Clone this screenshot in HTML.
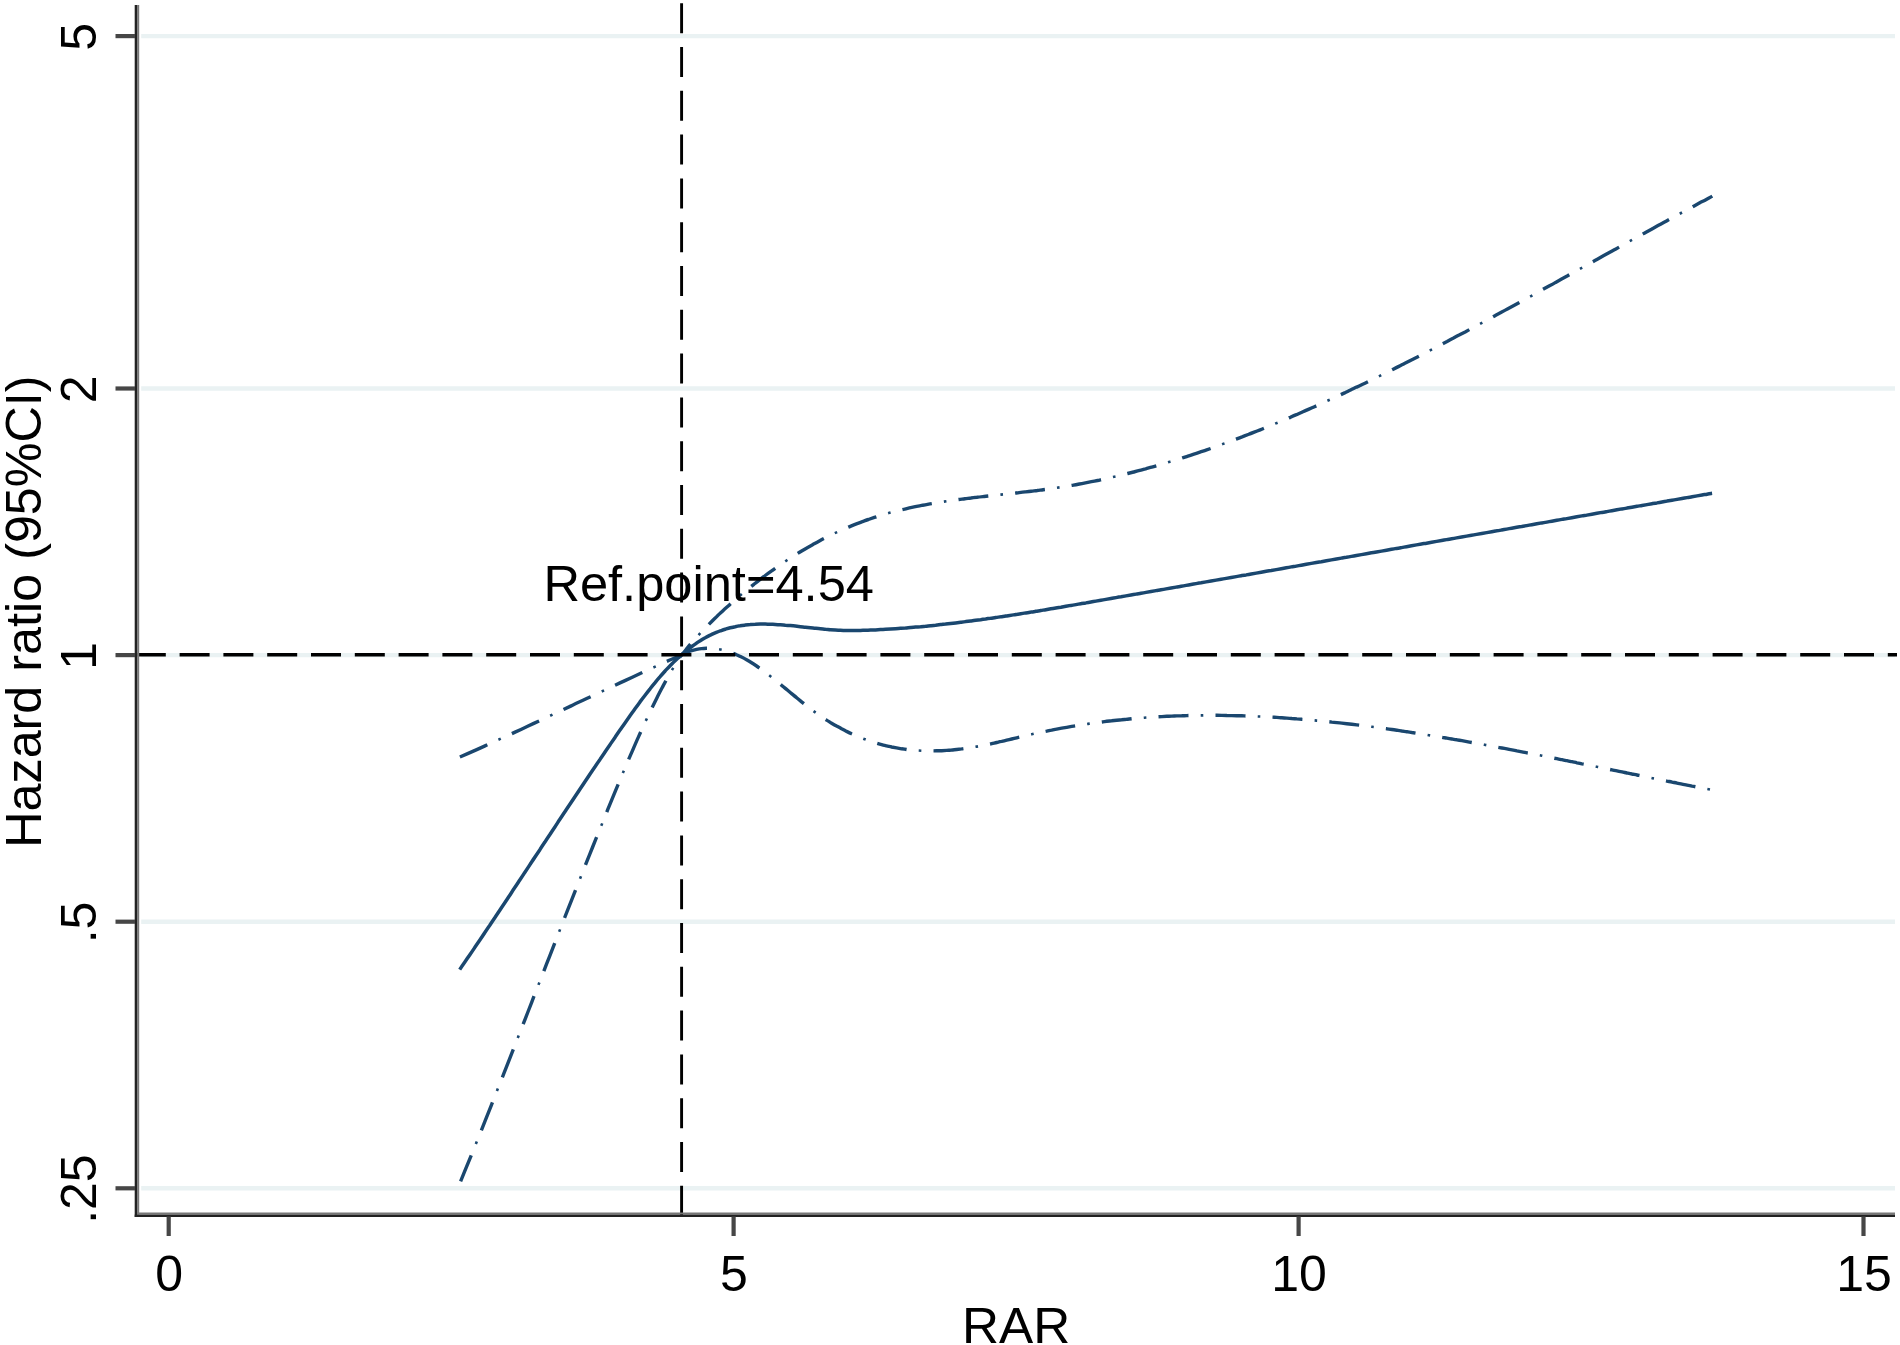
<!DOCTYPE html>
<html lang="en"><head><meta charset="utf-8"><title>Hazard ratio (95%CI) vs RAR</title>
<style>html,body{margin:0;padding:0;background:#fff;}svg{display:block;}svg text{font-family:"Liberation Sans",sans-serif;}</style></head><body>
<svg width="1900" height="1345" viewBox="0 0 1900 1345">
<rect x="0" y="0" width="1900" height="1345" fill="#ffffff"/>
<g stroke="#eaf2f3" stroke-width="4.4">
<line x1="141.2" y1="36.1" x2="1895" y2="36.1"/>
<line x1="141.2" y1="388.5" x2="1895" y2="388.5"/>
<line x1="141.2" y1="655.1" x2="1895" y2="655.1"/>
<line x1="141.2" y1="921.7" x2="1895" y2="921.7"/>
<line x1="141.2" y1="1188.3" x2="1895" y2="1188.3"/>
</g>
<g fill="none" stroke="#1a476f" stroke-linecap="butt" stroke-linejoin="round">
<path d="M459.7 969.6 C460.5 968.4 463.0 964.7 464.7 962.3 C466.4 959.8 468.0 957.4 469.7 954.9 C471.4 952.5 473.1 950.0 474.7 947.6 C476.4 945.1 478.1 942.6 479.7 940.2 C481.4 937.7 483.1 935.2 484.7 932.7 C486.4 930.2 488.1 927.7 489.8 925.3 C491.4 922.8 493.1 920.3 494.8 917.8 C496.4 915.3 498.1 912.8 499.8 910.2 C501.4 907.7 503.1 905.2 504.8 902.7 C506.5 900.2 508.1 897.7 509.8 895.2 C511.5 892.6 513.1 890.1 514.8 887.6 C516.5 885.1 518.1 882.6 519.8 880.0 C521.5 877.5 523.2 875.0 524.8 872.4 C526.5 869.9 528.2 867.4 529.8 864.9 C531.5 862.3 533.2 859.8 534.8 857.3 C536.5 854.7 538.2 852.2 539.9 849.7 C541.5 847.1 543.2 844.6 544.9 842.1 C546.5 839.5 548.2 837.0 549.9 834.5 C551.5 831.9 553.2 829.4 554.9 826.9 C556.6 824.4 558.2 821.8 559.9 819.3 C561.6 816.8 563.2 814.3 564.9 811.8 C566.6 809.2 568.2 806.7 569.9 804.2 C571.6 801.7 573.3 799.2 574.9 796.7 C576.6 794.2 578.3 791.7 579.9 789.2 C581.6 786.7 583.3 784.2 584.9 781.7 C586.6 779.2 588.3 776.7 589.9 774.2 C591.6 771.7 593.3 769.3 595.0 766.8 C596.6 764.3 598.3 761.8 600.0 759.4 C601.6 756.9 603.3 754.5 605.0 752.0 C606.6 749.6 608.3 747.1 610.0 744.7 C611.7 742.2 613.3 739.8 615.0 737.4 C616.7 734.9 618.3 732.5 620.0 730.1 C621.7 727.7 623.3 725.3 625.0 722.9 C626.7 720.5 628.4 718.1 630.0 715.8 C631.7 713.4 633.4 711.1 635.0 708.8 C636.7 706.5 638.4 704.2 640.0 701.9 C641.7 699.7 643.4 697.4 645.1 695.2 C646.7 693.0 648.4 690.9 650.1 688.8 C651.7 686.7 653.4 684.6 655.1 682.6 C656.7 680.6 658.4 678.6 660.1 676.7 C661.8 674.7 663.4 672.9 665.1 671.0 C666.8 669.2 668.4 667.4 670.1 665.7 C671.8 664.0 673.4 662.3 675.1 660.7 C676.8 659.1 678.5 657.6 680.1 656.1 C681.8 654.6 683.5 653.1 685.1 651.7 C686.8 650.3 688.5 649.0 690.1 647.7 C691.8 646.5 693.5 645.2 695.2 644.1 C696.8 642.9 698.5 641.8 700.2 640.8 C701.8 639.7 703.5 638.7 705.2 637.8 C706.8 636.9 708.5 636.0 710.2 635.2 C711.8 634.3 713.5 633.6 715.2 632.9 C716.9 632.2 718.5 631.5 720.2 630.9 C721.9 630.3 723.5 629.7 725.2 629.2 C726.9 628.7 728.5 628.2 730.2 627.8 C731.9 627.4 733.6 627.0 735.2 626.7 C736.9 626.3 738.6 626.0 740.2 625.8 C741.9 625.5 743.6 625.3 745.2 625.1 C746.9 624.9 748.6 624.7 750.3 624.6 C751.9 624.4 753.6 624.3 755.3 624.3 C756.9 624.2 758.6 624.1 760.3 624.1 C761.9 624.1 763.6 624.1 765.3 624.1 C767.0 624.1 768.6 624.2 770.3 624.2 C772.0 624.3 773.6 624.4 775.3 624.5 C777.0 624.6 778.6 624.7 780.3 624.8 C782.0 624.9 783.7 625.0 785.3 625.2 C787.0 625.3 788.7 625.5 790.3 625.6 C792.0 625.8 793.7 626.0 795.3 626.1 C797.0 626.3 798.7 626.5 800.4 626.7 C802.0 626.9 803.7 627.0 805.4 627.2 C807.0 627.4 808.7 627.6 810.4 627.8 C812.0 628.0 813.7 628.1 815.4 628.3 C817.1 628.5 818.7 628.7 820.4 628.8 C822.1 629.0 823.7 629.1 825.4 629.3 C827.1 629.4 828.7 629.6 830.4 629.7 C832.1 629.8 833.8 629.9 835.4 630.0 C837.1 630.1 838.8 630.2 840.4 630.2 C842.1 630.3 843.8 630.4 845.4 630.4 C847.1 630.4 848.8 630.5 850.4 630.5 C852.1 630.5 853.8 630.5 855.5 630.5 C857.1 630.4 858.8 630.4 860.5 630.4 C862.1 630.4 863.8 630.3 865.5 630.3 C867.1 630.2 868.8 630.2 870.5 630.1 C872.2 630.0 873.8 629.9 875.5 629.9 C877.2 629.8 878.8 629.7 880.5 629.6 C882.2 629.5 883.8 629.4 885.5 629.3 C887.2 629.2 888.9 629.1 890.5 629.0 C892.2 628.9 893.9 628.8 895.5 628.7 C897.2 628.6 898.9 628.5 900.5 628.3 C902.2 628.2 903.9 628.1 905.6 628.0 C907.2 627.8 908.9 627.7 910.6 627.5 C912.2 627.4 913.9 627.3 915.6 627.1 C917.2 627.0 918.9 626.8 920.6 626.7 C922.3 626.5 923.9 626.3 925.6 626.2 C927.3 626.0 928.9 625.9 930.6 625.7 C932.3 625.5 933.9 625.3 935.6 625.2 C937.3 625.0 939.0 624.8 940.6 624.6 C942.3 624.4 944.0 624.3 945.6 624.1 C947.3 623.9 949.0 623.7 950.6 623.5 C952.3 623.3 954.0 623.1 955.7 622.9 C957.3 622.7 959.0 622.5 960.7 622.3 C962.3 622.1 964.0 621.9 965.7 621.6 C967.3 621.4 969.0 621.2 970.7 621.0 C972.3 620.8 974.0 620.6 975.7 620.3 C977.4 620.1 979.0 619.9 980.7 619.7 C982.4 619.4 984.0 619.2 985.7 619.0 C987.4 618.7 989.0 618.5 990.7 618.3 C992.4 618.0 994.1 617.8 995.7 617.5 C997.4 617.3 999.1 617.0 1000.7 616.8 C1002.4 616.5 1004.1 616.3 1005.7 616.0 C1007.4 615.8 1009.1 615.5 1010.8 615.3 C1012.4 615.0 1014.1 614.8 1015.8 614.5 C1017.4 614.3 1019.1 614.0 1020.8 613.7 C1022.4 613.5 1024.1 613.2 1025.8 612.9 C1027.5 612.7 1029.1 612.4 1030.8 612.1 C1032.5 611.9 1034.1 611.6 1035.8 611.3 C1037.5 611.0 1039.1 610.8 1040.8 610.5 C1042.5 610.2 1044.2 610.0 1045.8 609.7 C1047.5 609.4 1049.2 609.1 1050.8 608.8 C1052.5 608.6 1054.2 608.3 1055.8 608.0 C1057.5 607.7 1059.2 607.4 1060.9 607.2 C1062.5 606.9 1064.2 606.6 1065.9 606.3 C1067.5 606.0 1069.2 605.7 1070.9 605.4 C1072.5 605.2 1074.2 604.9 1075.9 604.6 C1077.6 604.3 1079.2 604.0 1080.9 603.7 C1082.6 603.4 1084.2 603.1 1085.9 602.9 C1087.6 602.6 1089.2 602.3 1090.9 602.0 C1092.6 601.7 1094.2 601.4 1095.9 601.1 C1097.6 600.8 1099.3 600.5 1100.9 600.2 C1102.6 600.0 1104.3 599.7 1105.9 599.4 C1107.6 599.1 1109.3 598.8 1110.9 598.5 C1112.6 598.2 1114.3 597.9 1116.0 597.6 C1117.6 597.3 1119.3 597.0 1121.0 596.8 C1122.6 596.5 1124.3 596.2 1126.0 595.9 C1127.6 595.6 1129.3 595.3 1131.0 595.0 C1132.7 594.7 1134.3 594.4 1136.0 594.1 C1137.7 593.8 1139.3 593.6 1141.0 593.3 C1142.7 593.0 1144.3 592.7 1146.0 592.4 C1147.7 592.1 1149.4 591.8 1151.0 591.5 C1152.7 591.2 1154.4 590.9 1156.0 590.6 C1157.7 590.3 1159.4 590.1 1161.0 589.8 C1162.7 589.5 1164.4 589.2 1166.1 588.9 C1167.7 588.6 1169.4 588.3 1171.1 588.0 C1172.7 587.7 1174.4 587.4 1176.1 587.1 C1177.7 586.8 1179.4 586.6 1181.1 586.3 C1182.8 586.0 1184.4 585.7 1186.1 585.4 C1187.8 585.1 1189.4 584.8 1191.1 584.5 C1192.8 584.2 1194.4 583.9 1196.1 583.6 C1197.8 583.3 1199.5 583.0 1201.1 582.8 C1202.8 582.5 1204.5 582.2 1206.1 581.9 C1207.8 581.6 1209.5 581.3 1211.1 581.0 C1212.8 580.7 1214.5 580.4 1216.1 580.1 C1217.8 579.8 1219.5 579.5 1221.2 579.2 C1222.8 579.0 1224.5 578.7 1226.2 578.4 C1227.8 578.1 1229.5 577.8 1231.2 577.5 C1232.8 577.2 1234.5 576.9 1236.2 576.6 C1237.9 576.3 1239.5 576.0 1241.2 575.7 C1242.9 575.4 1244.5 575.1 1246.2 574.9 C1247.9 574.6 1249.5 574.3 1251.2 574.0 C1252.9 573.7 1254.6 573.4 1256.2 573.1 C1257.9 572.8 1259.6 572.5 1261.2 572.2 C1262.9 571.9 1264.6 571.6 1266.2 571.3 C1267.9 571.0 1269.6 570.7 1271.3 570.5 C1272.9 570.2 1274.6 569.9 1276.3 569.6 C1277.9 569.3 1279.6 569.0 1281.3 568.7 C1282.9 568.4 1284.6 568.1 1286.3 567.8 C1288.0 567.5 1289.6 567.2 1291.3 566.9 C1293.0 566.6 1294.6 566.4 1296.3 566.1 C1298.0 565.8 1299.6 565.5 1301.3 565.2 C1303.0 564.9 1304.7 564.6 1306.3 564.3 C1308.0 564.0 1309.7 563.7 1311.3 563.4 C1313.0 563.1 1314.7 562.8 1316.3 562.5 C1318.0 562.2 1319.7 561.9 1321.4 561.7 C1323.0 561.4 1324.7 561.1 1326.4 560.8 C1328.0 560.5 1329.7 560.2 1331.4 559.9 C1333.0 559.6 1334.7 559.3 1336.4 559.0 C1338.0 558.7 1339.7 558.4 1341.4 558.1 C1343.1 557.8 1344.7 557.5 1346.4 557.3 C1348.1 557.0 1349.7 556.7 1351.4 556.4 C1353.1 556.1 1354.7 555.8 1356.4 555.5 C1358.1 555.2 1359.8 554.9 1361.4 554.6 C1363.1 554.3 1364.8 554.0 1366.4 553.7 C1368.1 553.4 1369.8 553.1 1371.4 552.8 C1373.1 552.6 1374.8 552.3 1376.5 552.0 C1378.1 551.7 1379.8 551.4 1381.5 551.1 C1383.1 550.8 1384.8 550.5 1386.5 550.2 C1388.1 549.9 1389.8 549.6 1391.5 549.3 C1393.2 549.0 1394.8 548.7 1396.5 548.4 C1398.2 548.2 1399.8 547.9 1401.5 547.6 C1403.2 547.3 1404.8 547.0 1406.5 546.7 C1408.2 546.4 1409.9 546.1 1411.5 545.8 C1413.2 545.5 1414.9 545.2 1416.5 544.9 C1418.2 544.6 1419.9 544.3 1421.5 544.0 C1423.2 543.7 1424.9 543.5 1426.6 543.2 C1428.2 542.9 1429.9 542.6 1431.6 542.3 C1433.2 542.0 1434.9 541.7 1436.6 541.4 C1438.2 541.1 1439.9 540.8 1441.6 540.5 C1443.3 540.2 1444.9 539.9 1446.6 539.6 C1448.3 539.3 1449.9 539.1 1451.6 538.8 C1453.3 538.5 1454.9 538.2 1456.6 537.9 C1458.3 537.6 1460.0 537.3 1461.6 537.0 C1463.3 536.7 1465.0 536.4 1466.6 536.1 C1468.3 535.8 1470.0 535.5 1471.6 535.2 C1473.3 535.0 1475.0 534.7 1476.6 534.4 C1478.3 534.1 1480.0 533.8 1481.7 533.5 C1483.3 533.2 1485.0 532.9 1486.7 532.6 C1488.3 532.3 1490.0 532.0 1491.7 531.7 C1493.3 531.4 1495.0 531.1 1496.7 530.8 C1498.4 530.6 1500.0 530.3 1501.7 530.0 C1503.4 529.7 1505.0 529.4 1506.7 529.1 C1508.4 528.8 1510.0 528.5 1511.7 528.2 C1513.4 527.9 1515.1 527.6 1516.7 527.3 C1518.4 527.0 1520.1 526.7 1521.7 526.5 C1523.4 526.2 1525.1 525.9 1526.7 525.6 C1528.4 525.3 1530.1 525.0 1531.8 524.7 C1533.4 524.4 1535.1 524.1 1536.8 523.8 C1538.4 523.5 1540.1 523.2 1541.8 522.9 C1543.4 522.7 1545.1 522.4 1546.8 522.1 C1548.5 521.8 1550.1 521.5 1551.8 521.2 C1553.5 520.9 1555.1 520.6 1556.8 520.3 C1558.5 520.0 1560.1 519.7 1561.8 519.4 C1563.5 519.1 1565.2 518.9 1566.8 518.6 C1568.5 518.3 1570.2 518.0 1571.8 517.7 C1573.5 517.4 1575.2 517.1 1576.8 516.8 C1578.5 516.5 1580.2 516.2 1581.9 515.9 C1583.5 515.6 1585.2 515.4 1586.9 515.1 C1588.5 514.8 1590.2 514.5 1591.9 514.2 C1593.5 513.9 1595.2 513.6 1596.9 513.3 C1598.5 513.0 1600.2 512.7 1601.9 512.4 C1603.6 512.2 1605.2 511.9 1606.9 511.6 C1608.6 511.3 1610.2 511.0 1611.9 510.7 C1613.6 510.4 1615.2 510.1 1616.9 509.8 C1618.6 509.5 1620.3 509.2 1621.9 508.9 C1623.6 508.7 1625.3 508.4 1626.9 508.1 C1628.6 507.8 1630.3 507.5 1631.9 507.2 C1633.6 506.9 1635.3 506.6 1637.0 506.3 C1638.6 506.0 1640.3 505.8 1642.0 505.5 C1643.6 505.2 1645.3 504.9 1647.0 504.6 C1648.6 504.3 1650.3 504.0 1652.0 503.7 C1653.7 503.4 1655.3 503.1 1657.0 502.9 C1658.7 502.6 1660.3 502.3 1662.0 502.0 C1663.7 501.7 1665.3 501.4 1667.0 501.1 C1668.7 500.8 1670.4 500.5 1672.0 500.2 C1673.7 500.0 1675.4 499.7 1677.0 499.4 C1678.7 499.1 1680.4 498.8 1682.0 498.5 C1683.7 498.2 1685.4 497.9 1687.1 497.6 C1688.7 497.3 1690.4 497.1 1692.1 496.8 C1693.7 496.5 1695.4 496.2 1697.1 495.9 C1698.7 495.6 1700.4 495.3 1702.1 495.0 C1703.8 494.7 1705.4 494.5 1707.1 494.2 C1708.8 493.9 1711.3 493.4 1712.1 493.3" stroke-width="3.5"/>
<path d="M459.9 757.0 C462.0 756.1 468.1 753.4 472.2 751.6 C476.3 749.7 480.4 747.9 484.5 746.1 C488.6 744.2 492.7 742.4 496.8 740.5 C500.9 738.6 505.1 736.7 509.2 734.9 C513.3 733.0 517.4 731.1 521.5 729.2 C525.6 727.3 529.7 725.3 533.8 723.4 C537.9 721.5 542.0 719.6 546.1 717.7 C550.2 715.7 554.3 713.8 558.4 711.9 C562.5 709.9 566.6 708.0 570.7 706.1 C574.8 704.1 578.9 702.2 583.0 700.3 C587.1 698.3 591.2 696.4 595.4 694.5 C599.5 692.5 603.6 690.6 607.7 688.7 C611.8 686.7 615.9 684.8 620.0 682.9 C624.1 681.0 628.2 679.1 632.3 677.2 C636.4 675.3 640.5 673.4 644.6 671.5 C648.7 669.6 652.8 667.7 656.9 665.9 C661.0 664.0 665.1 662.1 669.2 660.3 C673.3 658.4 678.5 656.9 681.5 654.8 C684.6 652.7 685.6 649.9 687.6 647.5 C689.6 645.1 691.6 642.8 693.6 640.5 C695.6 638.3 697.6 636.1 699.6 633.9 C701.6 631.7 703.7 629.6 705.7 627.6 C707.7 625.5 709.7 623.5 711.7 621.5 C713.7 619.5 715.7 617.6 717.7 615.6 C719.7 613.7 721.7 611.9 723.7 610.0 C725.8 608.2 727.8 606.3 729.8 604.6 C731.8 602.8 733.8 601.0 735.8 599.3 C737.8 597.5 739.8 595.8 741.8 594.1 C743.8 592.4 745.8 590.8 747.9 589.1 C749.9 587.5 751.9 585.9 753.9 584.3 C755.9 582.7 757.9 581.1 759.9 579.6 C761.9 578.0 763.9 576.5 765.9 575.0 C767.9 573.5 770.0 572.0 772.0 570.6 C774.0 569.1 776.0 567.7 778.0 566.3 C780.0 564.9 782.0 563.6 784.0 562.2 C786.0 560.9 788.0 559.5 790.0 558.2 C792.1 556.9 794.1 555.7 796.1 554.4 C798.1 553.1 800.1 551.9 802.1 550.7 C804.1 549.5 806.1 548.3 808.1 547.2 C810.1 546.0 812.2 544.9 814.2 543.8 C816.2 542.7 818.2 541.6 820.2 540.5 C822.2 539.4 824.2 538.4 826.2 537.4 C828.2 536.4 830.2 535.4 832.2 534.4 C834.3 533.4 836.3 532.5 838.3 531.6 C840.3 530.6 842.3 529.7 844.3 528.9 C846.3 528.0 848.3 527.1 850.3 526.3 C852.3 525.5 854.3 524.7 856.4 523.9 C858.4 523.1 860.4 522.3 862.4 521.6 C864.4 520.9 866.4 520.1 868.4 519.5 C870.4 518.8 872.4 518.1 874.4 517.4 C876.4 516.8 878.5 516.1 880.5 515.5 C882.5 514.9 884.5 514.3 886.5 513.8 C888.5 513.2 890.5 512.6 892.5 512.1 C894.5 511.6 896.5 511.0 898.5 510.5 C900.6 510.0 902.6 509.5 904.6 509.1 C906.6 508.6 908.6 508.2 910.6 507.7 C912.6 507.3 914.6 506.9 916.6 506.4 C918.6 506.0 920.7 505.6 922.7 505.2 C924.7 504.9 926.7 504.5 928.7 504.1 C930.7 503.8 932.7 503.4 934.7 503.1 C936.7 502.7 938.7 502.4 940.7 502.1 C942.8 501.8 944.8 501.5 946.8 501.2 C948.8 500.9 950.8 500.6 952.8 500.3 C954.8 500.0 956.8 499.8 958.8 499.5 C960.8 499.2 962.8 499.0 964.9 498.7 C966.9 498.5 968.9 498.2 970.9 498.0 C972.9 497.7 974.9 497.5 976.9 497.3 C978.9 497.0 980.9 496.8 982.9 496.6 C984.9 496.4 987.0 496.1 989.0 495.9 C991.0 495.7 993.0 495.5 995.0 495.2 C997.0 495.0 999.0 494.8 1001.0 494.6 C1003.0 494.4 1005.0 494.2 1007.0 493.9 C1009.1 493.7 1011.1 493.5 1013.1 493.3 C1015.1 493.1 1017.1 492.8 1019.1 492.6 C1021.1 492.4 1023.1 492.2 1025.1 491.9 C1027.1 491.7 1029.2 491.5 1031.2 491.2 C1033.2 491.0 1035.2 490.7 1037.2 490.5 C1039.2 490.2 1041.2 490.0 1043.2 489.7 C1045.2 489.4 1047.2 489.2 1049.2 488.9 C1051.3 488.6 1053.3 488.3 1055.3 488.0 C1057.3 487.7 1059.3 487.4 1061.3 487.1 C1063.3 486.8 1065.3 486.5 1067.3 486.1 C1069.3 485.8 1071.3 485.5 1073.4 485.1 C1075.4 484.8 1077.4 484.4 1079.4 484.0 C1081.4 483.7 1083.4 483.3 1085.4 482.9 C1087.4 482.5 1089.4 482.1 1091.4 481.7 C1093.4 481.3 1095.5 480.9 1097.5 480.5 C1099.5 480.1 1101.5 479.6 1103.5 479.2 C1105.5 478.8 1107.5 478.3 1109.5 477.9 C1111.5 477.4 1113.5 476.9 1115.5 476.5 C1117.6 476.0 1119.6 475.5 1121.6 475.0 C1123.6 474.5 1125.6 474.0 1127.6 473.5 C1129.6 473.0 1131.6 472.5 1133.6 472.0 C1135.6 471.5 1137.7 471.0 1139.7 470.4 C1141.7 469.9 1143.7 469.3 1145.7 468.8 C1147.7 468.2 1149.7 467.7 1151.7 467.1 C1153.7 466.6 1155.7 466.0 1157.7 465.4 C1159.8 464.8 1161.8 464.2 1163.8 463.6 C1165.8 463.0 1167.8 462.4 1169.8 461.8 C1171.8 461.2 1173.8 460.6 1175.8 460.0 C1177.8 459.3 1179.8 458.7 1181.9 458.1 C1183.9 457.4 1185.9 456.8 1187.9 456.1 C1189.9 455.5 1191.9 454.8 1193.9 454.1 C1195.9 453.5 1197.9 452.8 1199.9 452.1 C1201.9 451.4 1204.0 450.8 1206.0 450.1 C1208.0 449.4 1210.0 448.7 1212.0 448.0 C1214.0 447.3 1216.0 446.5 1218.0 445.8 C1220.0 445.1 1222.0 444.4 1224.0 443.6 C1226.1 442.9 1228.1 442.2 1230.1 441.4 C1232.1 440.7 1234.1 439.9 1236.1 439.2 C1238.1 438.4 1240.1 437.6 1242.1 436.9 C1244.1 436.1 1246.2 435.3 1248.2 434.5 C1250.2 433.8 1252.2 433.0 1254.2 432.2 C1256.2 431.4 1258.2 430.6 1260.2 429.8 C1262.2 429.0 1264.2 428.2 1266.2 427.3 C1268.3 426.5 1270.3 425.7 1272.3 424.9 C1274.3 424.0 1276.3 423.2 1278.3 422.4 C1280.3 421.5 1282.3 420.7 1284.3 419.8 C1286.3 419.0 1288.3 418.1 1290.4 417.3 C1292.4 416.4 1294.4 415.5 1296.4 414.7 C1298.4 413.8 1300.4 412.9 1302.4 412.0 C1304.4 411.2 1306.4 410.3 1308.4 409.4 C1310.4 408.5 1312.5 407.6 1314.5 406.7 C1316.5 405.8 1318.5 404.9 1320.5 404.0 C1322.5 403.1 1324.5 402.2 1326.5 401.2 C1328.5 400.3 1330.5 399.4 1332.5 398.5 C1334.6 397.5 1336.6 396.6 1338.6 395.7 C1340.6 394.7 1342.6 393.8 1344.6 392.9 C1346.6 391.9 1348.6 391.0 1350.6 390.0 C1352.6 389.0 1354.7 388.1 1356.7 387.1 C1358.7 386.2 1360.7 385.2 1362.7 384.2 C1364.7 383.3 1366.7 382.3 1368.7 381.3 C1370.7 380.3 1372.7 379.3 1374.7 378.4 C1376.8 377.4 1378.8 376.4 1380.8 375.4 C1382.8 374.4 1384.8 373.4 1386.8 372.4 C1388.8 371.4 1390.8 370.4 1392.8 369.4 C1394.8 368.4 1396.8 367.4 1398.9 366.4 C1400.9 365.4 1402.9 364.3 1404.9 363.3 C1406.9 362.3 1408.9 361.3 1410.9 360.2 C1412.9 359.2 1414.9 358.2 1416.9 357.2 C1418.9 356.1 1421.0 355.1 1423.0 354.1 C1425.0 353.0 1427.0 352.0 1429.0 350.9 C1431.0 349.9 1433.0 348.8 1435.0 347.8 C1437.0 346.7 1439.0 345.7 1441.0 344.6 C1443.1 343.6 1445.1 342.5 1447.1 341.5 C1449.1 340.4 1451.1 339.3 1453.1 338.3 C1455.1 337.2 1457.1 336.1 1459.1 335.1 C1461.1 334.0 1463.2 332.9 1465.2 331.9 C1467.2 330.8 1469.2 329.7 1471.2 328.6 C1473.2 327.6 1475.2 326.5 1477.2 325.4 C1479.2 324.3 1481.2 323.2 1483.2 322.1 C1485.3 321.1 1487.3 320.0 1489.3 318.9 C1491.3 317.8 1493.3 316.7 1495.3 315.6 C1497.3 314.5 1499.3 313.4 1501.3 312.3 C1503.3 311.2 1505.3 310.1 1507.4 309.0 C1509.4 307.9 1511.4 306.8 1513.4 305.7 C1515.4 304.6 1517.4 303.5 1519.4 302.4 C1521.4 301.3 1523.4 300.2 1525.4 299.1 C1527.4 298.0 1529.5 296.9 1531.5 295.8 C1533.5 294.7 1535.5 293.6 1537.5 292.5 C1539.5 291.4 1541.5 290.2 1543.5 289.1 C1545.5 288.0 1547.5 286.9 1549.5 285.8 C1551.6 284.7 1553.6 283.6 1555.6 282.4 C1557.6 281.3 1559.6 280.2 1561.6 279.1 C1563.6 278.0 1565.6 276.9 1567.6 275.8 C1569.6 274.6 1571.7 273.5 1573.7 272.4 C1575.7 271.3 1577.7 270.2 1579.7 269.0 C1581.7 267.9 1583.7 266.8 1585.7 265.7 C1587.7 264.6 1589.7 263.5 1591.7 262.3 C1593.8 261.2 1595.8 260.1 1597.8 259.0 C1599.8 257.9 1601.8 256.7 1603.8 255.6 C1605.8 254.5 1607.8 253.4 1609.8 252.3 C1611.8 251.2 1613.8 250.0 1615.9 248.9 C1617.9 247.8 1619.9 246.7 1621.9 245.6 C1623.9 244.5 1625.9 243.4 1627.9 242.2 C1629.9 241.1 1631.9 240.0 1633.9 238.9 C1635.9 237.8 1638.0 236.7 1640.0 235.6 C1642.0 234.5 1644.0 233.3 1646.0 232.2 C1648.0 231.1 1650.0 230.0 1652.0 228.9 C1654.0 227.8 1656.0 226.7 1658.0 225.6 C1660.1 224.5 1662.1 223.4 1664.1 222.3 C1666.1 221.2 1668.1 220.1 1670.1 219.0 C1672.1 217.9 1674.1 216.8 1676.1 215.7 C1678.1 214.6 1680.2 213.5 1682.2 212.4 C1684.2 211.3 1686.2 210.2 1688.2 209.1 C1690.2 208.0 1692.2 207.0 1694.2 205.9 C1696.2 204.8 1698.2 203.7 1700.2 202.6 C1702.3 201.5 1704.3 200.5 1706.3 199.4 C1708.3 198.3 1711.3 196.7 1712.3 196.1" stroke-width="3.4" stroke-dasharray="30 27"/>
<path d="M459.9 757.0 C462.0 756.1 468.1 753.4 472.2 751.6 C476.3 749.7 480.4 747.9 484.5 746.1 C488.6 744.2 492.7 742.4 496.8 740.5 C500.9 738.6 505.1 736.7 509.2 734.9 C513.3 733.0 517.4 731.1 521.5 729.2 C525.6 727.3 529.7 725.3 533.8 723.4 C537.9 721.5 542.0 719.6 546.1 717.7 C550.2 715.7 554.3 713.8 558.4 711.9 C562.5 709.9 566.6 708.0 570.7 706.1 C574.8 704.1 578.9 702.2 583.0 700.3 C587.1 698.3 591.2 696.4 595.4 694.5 C599.5 692.5 603.6 690.6 607.7 688.7 C611.8 686.7 615.9 684.8 620.0 682.9 C624.1 681.0 628.2 679.1 632.3 677.2 C636.4 675.3 640.5 673.4 644.6 671.5 C648.7 669.6 652.8 667.7 656.9 665.9 C661.0 664.0 665.1 662.1 669.2 660.3 C673.3 658.4 678.5 656.9 681.5 654.8 C684.6 652.7 685.6 649.9 687.6 647.5 C689.6 645.1 691.6 642.8 693.6 640.5 C695.6 638.3 697.6 636.1 699.6 633.9 C701.6 631.7 703.7 629.6 705.7 627.6 C707.7 625.5 709.7 623.5 711.7 621.5 C713.7 619.5 715.7 617.6 717.7 615.6 C719.7 613.7 721.7 611.9 723.7 610.0 C725.8 608.2 727.8 606.3 729.8 604.6 C731.8 602.8 733.8 601.0 735.8 599.3 C737.8 597.5 739.8 595.8 741.8 594.1 C743.8 592.4 745.8 590.8 747.9 589.1 C749.9 587.5 751.9 585.9 753.9 584.3 C755.9 582.7 757.9 581.1 759.9 579.6 C761.9 578.0 763.9 576.5 765.9 575.0 C767.9 573.5 770.0 572.0 772.0 570.6 C774.0 569.1 776.0 567.7 778.0 566.3 C780.0 564.9 782.0 563.6 784.0 562.2 C786.0 560.9 788.0 559.5 790.0 558.2 C792.1 556.9 794.1 555.7 796.1 554.4 C798.1 553.1 800.1 551.9 802.1 550.7 C804.1 549.5 806.1 548.3 808.1 547.2 C810.1 546.0 812.2 544.9 814.2 543.8 C816.2 542.7 818.2 541.6 820.2 540.5 C822.2 539.4 824.2 538.4 826.2 537.4 C828.2 536.4 830.2 535.4 832.2 534.4 C834.3 533.4 836.3 532.5 838.3 531.6 C840.3 530.6 842.3 529.7 844.3 528.9 C846.3 528.0 848.3 527.1 850.3 526.3 C852.3 525.5 854.3 524.7 856.4 523.9 C858.4 523.1 860.4 522.3 862.4 521.6 C864.4 520.9 866.4 520.1 868.4 519.5 C870.4 518.8 872.4 518.1 874.4 517.4 C876.4 516.8 878.5 516.1 880.5 515.5 C882.5 514.9 884.5 514.3 886.5 513.8 C888.5 513.2 890.5 512.6 892.5 512.1 C894.5 511.6 896.5 511.0 898.5 510.5 C900.6 510.0 902.6 509.5 904.6 509.1 C906.6 508.6 908.6 508.2 910.6 507.7 C912.6 507.3 914.6 506.9 916.6 506.4 C918.6 506.0 920.7 505.6 922.7 505.2 C924.7 504.9 926.7 504.5 928.7 504.1 C930.7 503.8 932.7 503.4 934.7 503.1 C936.7 502.7 938.7 502.4 940.7 502.1 C942.8 501.8 944.8 501.5 946.8 501.2 C948.8 500.9 950.8 500.6 952.8 500.3 C954.8 500.0 956.8 499.8 958.8 499.5 C960.8 499.2 962.8 499.0 964.9 498.7 C966.9 498.5 968.9 498.2 970.9 498.0 C972.9 497.7 974.9 497.5 976.9 497.3 C978.9 497.0 980.9 496.8 982.9 496.6 C984.9 496.4 987.0 496.1 989.0 495.9 C991.0 495.7 993.0 495.5 995.0 495.2 C997.0 495.0 999.0 494.8 1001.0 494.6 C1003.0 494.4 1005.0 494.2 1007.0 493.9 C1009.1 493.7 1011.1 493.5 1013.1 493.3 C1015.1 493.1 1017.1 492.8 1019.1 492.6 C1021.1 492.4 1023.1 492.2 1025.1 491.9 C1027.1 491.7 1029.2 491.5 1031.2 491.2 C1033.2 491.0 1035.2 490.7 1037.2 490.5 C1039.2 490.2 1041.2 490.0 1043.2 489.7 C1045.2 489.4 1047.2 489.2 1049.2 488.9 C1051.3 488.6 1053.3 488.3 1055.3 488.0 C1057.3 487.7 1059.3 487.4 1061.3 487.1 C1063.3 486.8 1065.3 486.5 1067.3 486.1 C1069.3 485.8 1071.3 485.5 1073.4 485.1 C1075.4 484.8 1077.4 484.4 1079.4 484.0 C1081.4 483.7 1083.4 483.3 1085.4 482.9 C1087.4 482.5 1089.4 482.1 1091.4 481.7 C1093.4 481.3 1095.5 480.9 1097.5 480.5 C1099.5 480.1 1101.5 479.6 1103.5 479.2 C1105.5 478.8 1107.5 478.3 1109.5 477.9 C1111.5 477.4 1113.5 476.9 1115.5 476.5 C1117.6 476.0 1119.6 475.5 1121.6 475.0 C1123.6 474.5 1125.6 474.0 1127.6 473.5 C1129.6 473.0 1131.6 472.5 1133.6 472.0 C1135.6 471.5 1137.7 471.0 1139.7 470.4 C1141.7 469.9 1143.7 469.3 1145.7 468.8 C1147.7 468.2 1149.7 467.7 1151.7 467.1 C1153.7 466.6 1155.7 466.0 1157.7 465.4 C1159.8 464.8 1161.8 464.2 1163.8 463.6 C1165.8 463.0 1167.8 462.4 1169.8 461.8 C1171.8 461.2 1173.8 460.6 1175.8 460.0 C1177.8 459.3 1179.8 458.7 1181.9 458.1 C1183.9 457.4 1185.9 456.8 1187.9 456.1 C1189.9 455.5 1191.9 454.8 1193.9 454.1 C1195.9 453.5 1197.9 452.8 1199.9 452.1 C1201.9 451.4 1204.0 450.8 1206.0 450.1 C1208.0 449.4 1210.0 448.7 1212.0 448.0 C1214.0 447.3 1216.0 446.5 1218.0 445.8 C1220.0 445.1 1222.0 444.4 1224.0 443.6 C1226.1 442.9 1228.1 442.2 1230.1 441.4 C1232.1 440.7 1234.1 439.9 1236.1 439.2 C1238.1 438.4 1240.1 437.6 1242.1 436.9 C1244.1 436.1 1246.2 435.3 1248.2 434.5 C1250.2 433.8 1252.2 433.0 1254.2 432.2 C1256.2 431.4 1258.2 430.6 1260.2 429.8 C1262.2 429.0 1264.2 428.2 1266.2 427.3 C1268.3 426.5 1270.3 425.7 1272.3 424.9 C1274.3 424.0 1276.3 423.2 1278.3 422.4 C1280.3 421.5 1282.3 420.7 1284.3 419.8 C1286.3 419.0 1288.3 418.1 1290.4 417.3 C1292.4 416.4 1294.4 415.5 1296.4 414.7 C1298.4 413.8 1300.4 412.9 1302.4 412.0 C1304.4 411.2 1306.4 410.3 1308.4 409.4 C1310.4 408.5 1312.5 407.6 1314.5 406.7 C1316.5 405.8 1318.5 404.9 1320.5 404.0 C1322.5 403.1 1324.5 402.2 1326.5 401.2 C1328.5 400.3 1330.5 399.4 1332.5 398.5 C1334.6 397.5 1336.6 396.6 1338.6 395.7 C1340.6 394.7 1342.6 393.8 1344.6 392.9 C1346.6 391.9 1348.6 391.0 1350.6 390.0 C1352.6 389.0 1354.7 388.1 1356.7 387.1 C1358.7 386.2 1360.7 385.2 1362.7 384.2 C1364.7 383.3 1366.7 382.3 1368.7 381.3 C1370.7 380.3 1372.7 379.3 1374.7 378.4 C1376.8 377.4 1378.8 376.4 1380.8 375.4 C1382.8 374.4 1384.8 373.4 1386.8 372.4 C1388.8 371.4 1390.8 370.4 1392.8 369.4 C1394.8 368.4 1396.8 367.4 1398.9 366.4 C1400.9 365.4 1402.9 364.3 1404.9 363.3 C1406.9 362.3 1408.9 361.3 1410.9 360.2 C1412.9 359.2 1414.9 358.2 1416.9 357.2 C1418.9 356.1 1421.0 355.1 1423.0 354.1 C1425.0 353.0 1427.0 352.0 1429.0 350.9 C1431.0 349.9 1433.0 348.8 1435.0 347.8 C1437.0 346.7 1439.0 345.7 1441.0 344.6 C1443.1 343.6 1445.1 342.5 1447.1 341.5 C1449.1 340.4 1451.1 339.3 1453.1 338.3 C1455.1 337.2 1457.1 336.1 1459.1 335.1 C1461.1 334.0 1463.2 332.9 1465.2 331.9 C1467.2 330.8 1469.2 329.7 1471.2 328.6 C1473.2 327.6 1475.2 326.5 1477.2 325.4 C1479.2 324.3 1481.2 323.2 1483.2 322.1 C1485.3 321.1 1487.3 320.0 1489.3 318.9 C1491.3 317.8 1493.3 316.7 1495.3 315.6 C1497.3 314.5 1499.3 313.4 1501.3 312.3 C1503.3 311.2 1505.3 310.1 1507.4 309.0 C1509.4 307.9 1511.4 306.8 1513.4 305.7 C1515.4 304.6 1517.4 303.5 1519.4 302.4 C1521.4 301.3 1523.4 300.2 1525.4 299.1 C1527.4 298.0 1529.5 296.9 1531.5 295.8 C1533.5 294.7 1535.5 293.6 1537.5 292.5 C1539.5 291.4 1541.5 290.2 1543.5 289.1 C1545.5 288.0 1547.5 286.9 1549.5 285.8 C1551.6 284.7 1553.6 283.6 1555.6 282.4 C1557.6 281.3 1559.6 280.2 1561.6 279.1 C1563.6 278.0 1565.6 276.9 1567.6 275.8 C1569.6 274.6 1571.7 273.5 1573.7 272.4 C1575.7 271.3 1577.7 270.2 1579.7 269.0 C1581.7 267.9 1583.7 266.8 1585.7 265.7 C1587.7 264.6 1589.7 263.5 1591.7 262.3 C1593.8 261.2 1595.8 260.1 1597.8 259.0 C1599.8 257.9 1601.8 256.7 1603.8 255.6 C1605.8 254.5 1607.8 253.4 1609.8 252.3 C1611.8 251.2 1613.8 250.0 1615.9 248.9 C1617.9 247.8 1619.9 246.7 1621.9 245.6 C1623.9 244.5 1625.9 243.4 1627.9 242.2 C1629.9 241.1 1631.9 240.0 1633.9 238.9 C1635.9 237.8 1638.0 236.7 1640.0 235.6 C1642.0 234.5 1644.0 233.3 1646.0 232.2 C1648.0 231.1 1650.0 230.0 1652.0 228.9 C1654.0 227.8 1656.0 226.7 1658.0 225.6 C1660.1 224.5 1662.1 223.4 1664.1 222.3 C1666.1 221.2 1668.1 220.1 1670.1 219.0 C1672.1 217.9 1674.1 216.8 1676.1 215.7 C1678.1 214.6 1680.2 213.5 1682.2 212.4 C1684.2 211.3 1686.2 210.2 1688.2 209.1 C1690.2 208.0 1692.2 207.0 1694.2 205.9 C1696.2 204.8 1698.2 203.7 1700.2 202.6 C1702.3 201.5 1704.3 200.5 1706.3 199.4 C1708.3 198.3 1711.3 196.7 1712.3 196.1" stroke-width="2.6" stroke-dasharray="0 42.2 2.6 12.2"/>
<path d="M460.6 1181.4 C461.6 1178.9 464.7 1171.4 466.7 1166.4 C468.8 1161.4 470.8 1156.3 472.9 1151.3 C474.9 1146.2 477.0 1141.1 479.0 1136.1 C481.1 1131.0 483.1 1125.9 485.2 1120.7 C487.2 1115.6 489.2 1110.5 491.3 1105.3 C493.3 1100.2 495.4 1095.0 497.4 1089.8 C499.5 1084.6 501.5 1079.4 503.6 1074.2 C505.6 1069.0 507.7 1063.8 509.7 1058.6 C511.7 1053.4 513.8 1048.2 515.8 1042.9 C517.9 1037.7 519.9 1032.5 522.0 1027.2 C524.0 1022.0 526.1 1016.7 528.1 1011.5 C530.2 1006.2 532.2 1001.0 534.2 995.7 C536.3 990.5 538.3 985.2 540.4 979.9 C542.4 974.7 544.5 969.4 546.5 964.2 C548.6 958.9 550.6 953.7 552.7 948.4 C554.7 943.2 556.8 938.0 558.8 932.7 C560.8 927.5 562.9 922.3 564.9 917.0 C567.0 911.8 569.0 906.6 571.1 901.4 C573.1 896.2 575.2 891.0 577.2 885.8 C579.3 880.7 581.3 875.5 583.4 870.3 C585.4 865.2 587.4 860.0 589.5 854.9 C591.5 849.8 593.6 844.7 595.6 839.6 C597.7 834.5 599.7 829.4 601.8 824.4 C603.8 819.3 605.9 814.3 607.9 809.2 C609.9 804.2 612.0 799.2 614.0 794.3 C616.1 789.3 618.1 784.3 620.2 779.4 C622.2 774.5 624.3 769.7 626.3 764.8 C628.4 760.0 630.4 755.3 632.5 750.6 C634.5 745.9 636.5 741.2 638.6 736.6 C640.6 732.1 642.7 727.6 644.7 723.1 C646.8 718.7 648.8 714.4 650.9 710.1 C652.9 705.9 655.0 701.7 657.0 697.7 C659.0 693.6 661.1 689.7 663.1 685.9 C665.2 682.0 667.2 678.3 669.3 674.7 C671.3 671.1 673.4 667.7 675.4 664.4 C677.5 661.0 679.7 656.8 681.5 654.8 C683.4 652.8 684.9 653.2 686.6 652.5 C688.2 651.8 689.9 651.2 691.6 650.7 C693.2 650.2 694.9 649.8 696.6 649.4 C698.2 649.1 699.9 648.8 701.6 648.6 C703.2 648.4 704.9 648.3 706.6 648.2 C708.2 648.2 709.9 648.2 711.6 648.3 C713.2 648.4 714.9 648.6 716.6 648.8 C718.2 649.0 719.9 649.3 721.6 649.7 C723.2 650.1 724.9 650.5 726.6 651.0 C728.2 651.5 729.9 652.0 731.6 652.7 C733.2 653.3 734.9 653.9 736.6 654.7 C738.2 655.4 739.9 656.2 741.6 657.1 C743.2 657.9 744.9 658.8 746.6 659.8 C748.2 660.7 749.9 661.7 751.6 662.8 C753.2 663.8 754.9 664.9 756.6 666.0 C758.3 667.2 759.9 668.4 761.6 669.6 C763.3 670.8 764.9 672.0 766.6 673.3 C768.3 674.5 769.9 675.8 771.6 677.2 C773.3 678.5 774.9 679.8 776.6 681.2 C778.3 682.5 779.9 683.9 781.6 685.3 C783.3 686.6 784.9 688.0 786.6 689.4 C788.3 690.8 789.9 692.2 791.6 693.6 C793.3 695.0 794.9 696.4 796.6 697.7 C798.3 699.1 799.9 700.5 801.6 701.8 C803.3 703.1 804.9 704.5 806.6 705.8 C808.3 707.1 809.9 708.4 811.6 709.6 C813.3 710.9 814.9 712.1 816.6 713.3 C818.3 714.5 819.9 715.7 821.6 716.8 C823.3 717.9 824.9 719.0 826.6 720.1 C828.3 721.1 829.9 722.2 831.6 723.2 C833.3 724.2 835.0 725.2 836.6 726.1 C838.3 727.0 840.0 727.9 841.6 728.8 C843.3 729.7 845.0 730.6 846.6 731.4 C848.3 732.2 850.0 733.0 851.6 733.8 C853.3 734.5 855.0 735.3 856.6 736.0 C858.3 736.7 860.0 737.4 861.6 738.0 C863.3 738.7 865.0 739.3 866.6 739.9 C868.3 740.5 870.0 741.1 871.6 741.6 C873.3 742.2 875.0 742.7 876.6 743.2 C878.3 743.7 880.0 744.2 881.6 744.6 C883.3 745.1 885.0 745.5 886.6 745.9 C888.3 746.3 890.0 746.6 891.6 747.0 C893.3 747.3 895.0 747.6 896.6 747.9 C898.3 748.2 900.0 748.5 901.6 748.8 C903.3 749.0 905.0 749.2 906.6 749.5 C908.3 749.7 910.0 749.8 911.7 750.0 C913.3 750.2 915.0 750.3 916.7 750.4 C918.3 750.5 920.0 750.6 921.7 750.7 C923.3 750.8 925.0 750.8 926.7 750.9 C928.3 750.9 930.0 750.9 931.7 750.9 C933.3 750.9 935.0 750.9 936.7 750.8 C938.3 750.8 940.0 750.7 941.7 750.7 C943.3 750.6 945.0 750.5 946.7 750.4 C948.3 750.3 950.0 750.1 951.7 750.0 C953.3 749.8 955.0 749.7 956.7 749.5 C958.3 749.3 960.0 749.1 961.7 748.9 C963.3 748.7 965.0 748.4 966.7 748.2 C968.3 748.0 970.0 747.7 971.7 747.4 C973.3 747.2 975.0 746.9 976.7 746.6 C978.3 746.3 980.0 746.0 981.7 745.7 C983.3 745.3 985.0 745.0 986.7 744.7 C988.4 744.3 990.0 744.0 991.7 743.6 C993.4 743.2 995.0 742.9 996.7 742.5 C998.4 742.1 1000.0 741.7 1001.7 741.4 C1003.4 741.0 1005.0 740.6 1006.7 740.2 C1008.4 739.8 1010.0 739.4 1011.7 739.0 C1013.4 738.6 1015.0 738.2 1016.7 737.8 C1018.4 737.4 1020.0 737.0 1021.7 736.6 C1023.4 736.2 1025.0 735.8 1026.7 735.4 C1028.4 735.1 1030.0 734.7 1031.7 734.3 C1033.4 733.9 1035.0 733.5 1036.7 733.2 C1038.4 732.8 1040.0 732.5 1041.7 732.1 C1043.4 731.8 1045.0 731.4 1046.7 731.1 C1048.4 730.7 1050.0 730.4 1051.7 730.1 C1053.4 729.7 1055.0 729.4 1056.7 729.1 C1058.4 728.8 1060.0 728.5 1061.7 728.2 C1063.4 727.9 1065.1 727.6 1066.7 727.3 C1068.4 727.0 1070.1 726.7 1071.7 726.4 C1073.4 726.1 1075.1 725.8 1076.7 725.6 C1078.4 725.3 1080.1 725.0 1081.7 724.8 C1083.4 724.5 1085.1 724.3 1086.7 724.0 C1088.4 723.8 1090.1 723.5 1091.7 723.3 C1093.4 723.1 1095.1 722.8 1096.7 722.6 C1098.4 722.4 1100.1 722.2 1101.7 722.0 C1103.4 721.8 1105.1 721.5 1106.7 721.3 C1108.4 721.1 1110.1 720.9 1111.7 720.8 C1113.4 720.6 1115.1 720.4 1116.7 720.2 C1118.4 720.0 1120.1 719.8 1121.7 719.7 C1123.4 719.5 1125.1 719.3 1126.7 719.2 C1128.4 719.0 1130.1 718.9 1131.7 718.7 C1133.4 718.6 1135.1 718.4 1136.7 718.3 C1138.4 718.2 1140.1 718.0 1141.8 717.9 C1143.4 717.8 1145.1 717.6 1146.8 717.5 C1148.4 717.4 1150.1 717.3 1151.8 717.2 C1153.4 717.1 1155.1 717.0 1156.8 716.9 C1158.4 716.8 1160.1 716.7 1161.8 716.6 C1163.4 716.5 1165.1 716.4 1166.8 716.3 C1168.4 716.3 1170.1 716.2 1171.8 716.1 C1173.4 716.0 1175.1 716.0 1176.8 715.9 C1178.4 715.9 1180.1 715.8 1181.8 715.8 C1183.4 715.7 1185.1 715.7 1186.8 715.6 C1188.4 715.6 1190.1 715.5 1191.8 715.5 C1193.4 715.5 1195.1 715.4 1196.8 715.4 C1198.4 715.4 1200.1 715.4 1201.8 715.4 C1203.4 715.3 1205.1 715.3 1206.8 715.3 C1208.4 715.3 1210.1 715.3 1211.8 715.3 C1213.4 715.3 1215.1 715.3 1216.8 715.3 C1218.5 715.4 1220.1 715.4 1221.8 715.4 C1223.5 715.4 1225.1 715.4 1226.8 715.5 C1228.5 715.5 1230.1 715.5 1231.8 715.6 C1233.5 715.6 1235.1 715.6 1236.8 715.7 C1238.5 715.7 1240.1 715.8 1241.8 715.8 C1243.5 715.9 1245.1 715.9 1246.8 716.0 C1248.5 716.0 1250.1 716.1 1251.8 716.2 C1253.5 716.2 1255.1 716.3 1256.8 716.4 C1258.5 716.5 1260.1 716.5 1261.8 716.6 C1263.5 716.7 1265.1 716.8 1266.8 716.9 C1268.5 717.0 1270.1 717.0 1271.8 717.1 C1273.5 717.2 1275.1 717.3 1276.8 717.4 C1278.5 717.5 1280.1 717.7 1281.8 717.8 C1283.5 717.9 1285.1 718.0 1286.8 718.1 C1288.5 718.2 1290.1 718.3 1291.8 718.5 C1293.5 718.6 1295.2 718.7 1296.8 718.9 C1298.5 719.0 1300.2 719.1 1301.8 719.3 C1303.5 719.4 1305.2 719.5 1306.8 719.7 C1308.5 719.8 1310.2 720.0 1311.8 720.1 C1313.5 720.3 1315.2 720.4 1316.8 720.6 C1318.5 720.7 1320.2 720.9 1321.8 721.1 C1323.5 721.2 1325.2 721.4 1326.8 721.6 C1328.5 721.7 1330.2 721.9 1331.8 722.1 C1333.5 722.2 1335.2 722.4 1336.8 722.6 C1338.5 722.8 1340.2 723.0 1341.8 723.1 C1343.5 723.3 1345.2 723.5 1346.8 723.7 C1348.5 723.9 1350.2 724.1 1351.8 724.3 C1353.5 724.5 1355.2 724.7 1356.8 724.9 C1358.5 725.1 1360.2 725.3 1361.8 725.5 C1363.5 725.7 1365.2 725.9 1366.8 726.1 C1368.5 726.4 1370.2 726.6 1371.9 726.8 C1373.5 727.0 1375.2 727.2 1376.9 727.5 C1378.5 727.7 1380.2 727.9 1381.9 728.1 C1383.5 728.4 1385.2 728.6 1386.9 728.8 C1388.5 729.1 1390.2 729.3 1391.9 729.5 C1393.5 729.8 1395.2 730.0 1396.9 730.2 C1398.5 730.5 1400.2 730.7 1401.9 731.0 C1403.5 731.2 1405.2 731.5 1406.9 731.7 C1408.5 732.0 1410.2 732.2 1411.9 732.5 C1413.5 732.7 1415.2 733.0 1416.9 733.3 C1418.5 733.5 1420.2 733.8 1421.9 734.0 C1423.5 734.3 1425.2 734.6 1426.9 734.8 C1428.5 735.1 1430.2 735.4 1431.9 735.6 C1433.5 735.9 1435.2 736.2 1436.9 736.5 C1438.5 736.7 1440.2 737.0 1441.9 737.3 C1443.5 737.6 1445.2 737.8 1446.9 738.1 C1448.6 738.4 1450.2 738.7 1451.9 739.0 C1453.6 739.3 1455.2 739.6 1456.9 739.8 C1458.6 740.1 1460.2 740.4 1461.9 740.7 C1463.6 741.0 1465.2 741.3 1466.9 741.6 C1468.6 741.9 1470.2 742.2 1471.9 742.5 C1473.6 742.8 1475.2 743.1 1476.9 743.4 C1478.6 743.7 1480.2 744.0 1481.9 744.3 C1483.6 744.6 1485.2 744.9 1486.9 745.2 C1488.6 745.5 1490.2 745.8 1491.9 746.1 C1493.6 746.4 1495.2 746.7 1496.9 747.1 C1498.6 747.4 1500.2 747.7 1501.9 748.0 C1503.6 748.3 1505.2 748.6 1506.9 748.9 C1508.6 749.3 1510.2 749.6 1511.9 749.9 C1513.6 750.2 1515.2 750.5 1516.9 750.9 C1518.6 751.2 1520.2 751.5 1521.9 751.8 C1523.6 752.1 1525.3 752.5 1526.9 752.8 C1528.6 753.1 1530.3 753.4 1531.9 753.8 C1533.6 754.1 1535.3 754.4 1536.9 754.8 C1538.6 755.1 1540.3 755.4 1541.9 755.7 C1543.6 756.1 1545.3 756.4 1546.9 756.7 C1548.6 757.1 1550.3 757.4 1551.9 757.7 C1553.6 758.1 1555.3 758.4 1556.9 758.7 C1558.6 759.1 1560.3 759.4 1561.9 759.7 C1563.6 760.1 1565.3 760.4 1566.9 760.7 C1568.6 761.1 1570.3 761.4 1571.9 761.7 C1573.6 762.1 1575.3 762.4 1576.9 762.8 C1578.6 763.1 1580.3 763.4 1581.9 763.8 C1583.6 764.1 1585.3 764.4 1586.9 764.8 C1588.6 765.1 1590.3 765.5 1591.9 765.8 C1593.6 766.1 1595.3 766.5 1596.9 766.8 C1598.6 767.2 1600.3 767.5 1602.0 767.8 C1603.6 768.2 1605.3 768.5 1607.0 768.9 C1608.6 769.2 1610.3 769.6 1612.0 769.9 C1613.6 770.2 1615.3 770.6 1617.0 770.9 C1618.6 771.3 1620.3 771.6 1622.0 771.9 C1623.6 772.3 1625.3 772.6 1627.0 773.0 C1628.6 773.3 1630.3 773.6 1632.0 774.0 C1633.6 774.3 1635.3 774.7 1637.0 775.0 C1638.6 775.3 1640.3 775.7 1642.0 776.0 C1643.6 776.4 1645.3 776.7 1647.0 777.0 C1648.6 777.4 1650.3 777.7 1652.0 778.1 C1653.6 778.4 1655.3 778.7 1657.0 779.1 C1658.6 779.4 1660.3 779.7 1662.0 780.1 C1663.6 780.4 1665.3 780.7 1667.0 781.1 C1668.6 781.4 1670.3 781.8 1672.0 782.1 C1673.6 782.4 1675.3 782.8 1677.0 783.1 C1678.7 783.4 1680.3 783.8 1682.0 784.1 C1683.7 784.4 1685.3 784.8 1687.0 785.1 C1688.7 785.4 1690.3 785.7 1692.0 786.1 C1693.7 786.4 1695.3 786.7 1697.0 787.1 C1698.7 787.4 1700.3 787.7 1702.0 788.0 C1703.7 788.4 1705.3 788.7 1707.0 789.0 C1708.7 789.3 1711.2 789.8 1712.0 790.0" stroke-width="3.4" stroke-dasharray="30 27" stroke-dashoffset="1.8"/>
<path d="M460.6 1181.4 C461.6 1178.9 464.7 1171.4 466.7 1166.4 C468.8 1161.4 470.8 1156.3 472.9 1151.3 C474.9 1146.2 477.0 1141.1 479.0 1136.1 C481.1 1131.0 483.1 1125.9 485.2 1120.7 C487.2 1115.6 489.2 1110.5 491.3 1105.3 C493.3 1100.2 495.4 1095.0 497.4 1089.8 C499.5 1084.6 501.5 1079.4 503.6 1074.2 C505.6 1069.0 507.7 1063.8 509.7 1058.6 C511.7 1053.4 513.8 1048.2 515.8 1042.9 C517.9 1037.7 519.9 1032.5 522.0 1027.2 C524.0 1022.0 526.1 1016.7 528.1 1011.5 C530.2 1006.2 532.2 1001.0 534.2 995.7 C536.3 990.5 538.3 985.2 540.4 979.9 C542.4 974.7 544.5 969.4 546.5 964.2 C548.6 958.9 550.6 953.7 552.7 948.4 C554.7 943.2 556.8 938.0 558.8 932.7 C560.8 927.5 562.9 922.3 564.9 917.0 C567.0 911.8 569.0 906.6 571.1 901.4 C573.1 896.2 575.2 891.0 577.2 885.8 C579.3 880.7 581.3 875.5 583.4 870.3 C585.4 865.2 587.4 860.0 589.5 854.9 C591.5 849.8 593.6 844.7 595.6 839.6 C597.7 834.5 599.7 829.4 601.8 824.4 C603.8 819.3 605.9 814.3 607.9 809.2 C609.9 804.2 612.0 799.2 614.0 794.3 C616.1 789.3 618.1 784.3 620.2 779.4 C622.2 774.5 624.3 769.7 626.3 764.8 C628.4 760.0 630.4 755.3 632.5 750.6 C634.5 745.9 636.5 741.2 638.6 736.6 C640.6 732.1 642.7 727.6 644.7 723.1 C646.8 718.7 648.8 714.4 650.9 710.1 C652.9 705.9 655.0 701.7 657.0 697.7 C659.0 693.6 661.1 689.7 663.1 685.9 C665.2 682.0 667.2 678.3 669.3 674.7 C671.3 671.1 673.4 667.7 675.4 664.4 C677.5 661.0 679.7 656.8 681.5 654.8 C683.4 652.8 684.9 653.2 686.6 652.5 C688.2 651.8 689.9 651.2 691.6 650.7 C693.2 650.2 694.9 649.8 696.6 649.4 C698.2 649.1 699.9 648.8 701.6 648.6 C703.2 648.4 704.9 648.3 706.6 648.2 C708.2 648.2 709.9 648.2 711.6 648.3 C713.2 648.4 714.9 648.6 716.6 648.8 C718.2 649.0 719.9 649.3 721.6 649.7 C723.2 650.1 724.9 650.5 726.6 651.0 C728.2 651.5 729.9 652.0 731.6 652.7 C733.2 653.3 734.9 653.9 736.6 654.7 C738.2 655.4 739.9 656.2 741.6 657.1 C743.2 657.9 744.9 658.8 746.6 659.8 C748.2 660.7 749.9 661.7 751.6 662.8 C753.2 663.8 754.9 664.9 756.6 666.0 C758.3 667.2 759.9 668.4 761.6 669.6 C763.3 670.8 764.9 672.0 766.6 673.3 C768.3 674.5 769.9 675.8 771.6 677.2 C773.3 678.5 774.9 679.8 776.6 681.2 C778.3 682.5 779.9 683.9 781.6 685.3 C783.3 686.6 784.9 688.0 786.6 689.4 C788.3 690.8 789.9 692.2 791.6 693.6 C793.3 695.0 794.9 696.4 796.6 697.7 C798.3 699.1 799.9 700.5 801.6 701.8 C803.3 703.1 804.9 704.5 806.6 705.8 C808.3 707.1 809.9 708.4 811.6 709.6 C813.3 710.9 814.9 712.1 816.6 713.3 C818.3 714.5 819.9 715.7 821.6 716.8 C823.3 717.9 824.9 719.0 826.6 720.1 C828.3 721.1 829.9 722.2 831.6 723.2 C833.3 724.2 835.0 725.2 836.6 726.1 C838.3 727.0 840.0 727.9 841.6 728.8 C843.3 729.7 845.0 730.6 846.6 731.4 C848.3 732.2 850.0 733.0 851.6 733.8 C853.3 734.5 855.0 735.3 856.6 736.0 C858.3 736.7 860.0 737.4 861.6 738.0 C863.3 738.7 865.0 739.3 866.6 739.9 C868.3 740.5 870.0 741.1 871.6 741.6 C873.3 742.2 875.0 742.7 876.6 743.2 C878.3 743.7 880.0 744.2 881.6 744.6 C883.3 745.1 885.0 745.5 886.6 745.9 C888.3 746.3 890.0 746.6 891.6 747.0 C893.3 747.3 895.0 747.6 896.6 747.9 C898.3 748.2 900.0 748.5 901.6 748.8 C903.3 749.0 905.0 749.2 906.6 749.5 C908.3 749.7 910.0 749.8 911.7 750.0 C913.3 750.2 915.0 750.3 916.7 750.4 C918.3 750.5 920.0 750.6 921.7 750.7 C923.3 750.8 925.0 750.8 926.7 750.9 C928.3 750.9 930.0 750.9 931.7 750.9 C933.3 750.9 935.0 750.9 936.7 750.8 C938.3 750.8 940.0 750.7 941.7 750.7 C943.3 750.6 945.0 750.5 946.7 750.4 C948.3 750.3 950.0 750.1 951.7 750.0 C953.3 749.8 955.0 749.7 956.7 749.5 C958.3 749.3 960.0 749.1 961.7 748.9 C963.3 748.7 965.0 748.4 966.7 748.2 C968.3 748.0 970.0 747.7 971.7 747.4 C973.3 747.2 975.0 746.9 976.7 746.6 C978.3 746.3 980.0 746.0 981.7 745.7 C983.3 745.3 985.0 745.0 986.7 744.7 C988.4 744.3 990.0 744.0 991.7 743.6 C993.4 743.2 995.0 742.9 996.7 742.5 C998.4 742.1 1000.0 741.7 1001.7 741.4 C1003.4 741.0 1005.0 740.6 1006.7 740.2 C1008.4 739.8 1010.0 739.4 1011.7 739.0 C1013.4 738.6 1015.0 738.2 1016.7 737.8 C1018.4 737.4 1020.0 737.0 1021.7 736.6 C1023.4 736.2 1025.0 735.8 1026.7 735.4 C1028.4 735.1 1030.0 734.7 1031.7 734.3 C1033.4 733.9 1035.0 733.5 1036.7 733.2 C1038.4 732.8 1040.0 732.5 1041.7 732.1 C1043.4 731.8 1045.0 731.4 1046.7 731.1 C1048.4 730.7 1050.0 730.4 1051.7 730.1 C1053.4 729.7 1055.0 729.4 1056.7 729.1 C1058.4 728.8 1060.0 728.5 1061.7 728.2 C1063.4 727.9 1065.1 727.6 1066.7 727.3 C1068.4 727.0 1070.1 726.7 1071.7 726.4 C1073.4 726.1 1075.1 725.8 1076.7 725.6 C1078.4 725.3 1080.1 725.0 1081.7 724.8 C1083.4 724.5 1085.1 724.3 1086.7 724.0 C1088.4 723.8 1090.1 723.5 1091.7 723.3 C1093.4 723.1 1095.1 722.8 1096.7 722.6 C1098.4 722.4 1100.1 722.2 1101.7 722.0 C1103.4 721.8 1105.1 721.5 1106.7 721.3 C1108.4 721.1 1110.1 720.9 1111.7 720.8 C1113.4 720.6 1115.1 720.4 1116.7 720.2 C1118.4 720.0 1120.1 719.8 1121.7 719.7 C1123.4 719.5 1125.1 719.3 1126.7 719.2 C1128.4 719.0 1130.1 718.9 1131.7 718.7 C1133.4 718.6 1135.1 718.4 1136.7 718.3 C1138.4 718.2 1140.1 718.0 1141.8 717.9 C1143.4 717.8 1145.1 717.6 1146.8 717.5 C1148.4 717.4 1150.1 717.3 1151.8 717.2 C1153.4 717.1 1155.1 717.0 1156.8 716.9 C1158.4 716.8 1160.1 716.7 1161.8 716.6 C1163.4 716.5 1165.1 716.4 1166.8 716.3 C1168.4 716.3 1170.1 716.2 1171.8 716.1 C1173.4 716.0 1175.1 716.0 1176.8 715.9 C1178.4 715.9 1180.1 715.8 1181.8 715.8 C1183.4 715.7 1185.1 715.7 1186.8 715.6 C1188.4 715.6 1190.1 715.5 1191.8 715.5 C1193.4 715.5 1195.1 715.4 1196.8 715.4 C1198.4 715.4 1200.1 715.4 1201.8 715.4 C1203.4 715.3 1205.1 715.3 1206.8 715.3 C1208.4 715.3 1210.1 715.3 1211.8 715.3 C1213.4 715.3 1215.1 715.3 1216.8 715.3 C1218.5 715.4 1220.1 715.4 1221.8 715.4 C1223.5 715.4 1225.1 715.4 1226.8 715.5 C1228.5 715.5 1230.1 715.5 1231.8 715.6 C1233.5 715.6 1235.1 715.6 1236.8 715.7 C1238.5 715.7 1240.1 715.8 1241.8 715.8 C1243.5 715.9 1245.1 715.9 1246.8 716.0 C1248.5 716.0 1250.1 716.1 1251.8 716.2 C1253.5 716.2 1255.1 716.3 1256.8 716.4 C1258.5 716.5 1260.1 716.5 1261.8 716.6 C1263.5 716.7 1265.1 716.8 1266.8 716.9 C1268.5 717.0 1270.1 717.0 1271.8 717.1 C1273.5 717.2 1275.1 717.3 1276.8 717.4 C1278.5 717.5 1280.1 717.7 1281.8 717.8 C1283.5 717.9 1285.1 718.0 1286.8 718.1 C1288.5 718.2 1290.1 718.3 1291.8 718.5 C1293.5 718.6 1295.2 718.7 1296.8 718.9 C1298.5 719.0 1300.2 719.1 1301.8 719.3 C1303.5 719.4 1305.2 719.5 1306.8 719.7 C1308.5 719.8 1310.2 720.0 1311.8 720.1 C1313.5 720.3 1315.2 720.4 1316.8 720.6 C1318.5 720.7 1320.2 720.9 1321.8 721.1 C1323.5 721.2 1325.2 721.4 1326.8 721.6 C1328.5 721.7 1330.2 721.9 1331.8 722.1 C1333.5 722.2 1335.2 722.4 1336.8 722.6 C1338.5 722.8 1340.2 723.0 1341.8 723.1 C1343.5 723.3 1345.2 723.5 1346.8 723.7 C1348.5 723.9 1350.2 724.1 1351.8 724.3 C1353.5 724.5 1355.2 724.7 1356.8 724.9 C1358.5 725.1 1360.2 725.3 1361.8 725.5 C1363.5 725.7 1365.2 725.9 1366.8 726.1 C1368.5 726.4 1370.2 726.6 1371.9 726.8 C1373.5 727.0 1375.2 727.2 1376.9 727.5 C1378.5 727.7 1380.2 727.9 1381.9 728.1 C1383.5 728.4 1385.2 728.6 1386.9 728.8 C1388.5 729.1 1390.2 729.3 1391.9 729.5 C1393.5 729.8 1395.2 730.0 1396.9 730.2 C1398.5 730.5 1400.2 730.7 1401.9 731.0 C1403.5 731.2 1405.2 731.5 1406.9 731.7 C1408.5 732.0 1410.2 732.2 1411.9 732.5 C1413.5 732.7 1415.2 733.0 1416.9 733.3 C1418.5 733.5 1420.2 733.8 1421.9 734.0 C1423.5 734.3 1425.2 734.6 1426.9 734.8 C1428.5 735.1 1430.2 735.4 1431.9 735.6 C1433.5 735.9 1435.2 736.2 1436.9 736.5 C1438.5 736.7 1440.2 737.0 1441.9 737.3 C1443.5 737.6 1445.2 737.8 1446.9 738.1 C1448.6 738.4 1450.2 738.7 1451.9 739.0 C1453.6 739.3 1455.2 739.6 1456.9 739.8 C1458.6 740.1 1460.2 740.4 1461.9 740.7 C1463.6 741.0 1465.2 741.3 1466.9 741.6 C1468.6 741.9 1470.2 742.2 1471.9 742.5 C1473.6 742.8 1475.2 743.1 1476.9 743.4 C1478.6 743.7 1480.2 744.0 1481.9 744.3 C1483.6 744.6 1485.2 744.9 1486.9 745.2 C1488.6 745.5 1490.2 745.8 1491.9 746.1 C1493.6 746.4 1495.2 746.7 1496.9 747.1 C1498.6 747.4 1500.2 747.7 1501.9 748.0 C1503.6 748.3 1505.2 748.6 1506.9 748.9 C1508.6 749.3 1510.2 749.6 1511.9 749.9 C1513.6 750.2 1515.2 750.5 1516.9 750.9 C1518.6 751.2 1520.2 751.5 1521.9 751.8 C1523.6 752.1 1525.3 752.5 1526.9 752.8 C1528.6 753.1 1530.3 753.4 1531.9 753.8 C1533.6 754.1 1535.3 754.4 1536.9 754.8 C1538.6 755.1 1540.3 755.4 1541.9 755.7 C1543.6 756.1 1545.3 756.4 1546.9 756.7 C1548.6 757.1 1550.3 757.4 1551.9 757.7 C1553.6 758.1 1555.3 758.4 1556.9 758.7 C1558.6 759.1 1560.3 759.4 1561.9 759.7 C1563.6 760.1 1565.3 760.4 1566.9 760.7 C1568.6 761.1 1570.3 761.4 1571.9 761.7 C1573.6 762.1 1575.3 762.4 1576.9 762.8 C1578.6 763.1 1580.3 763.4 1581.9 763.8 C1583.6 764.1 1585.3 764.4 1586.9 764.8 C1588.6 765.1 1590.3 765.5 1591.9 765.8 C1593.6 766.1 1595.3 766.5 1596.9 766.8 C1598.6 767.2 1600.3 767.5 1602.0 767.8 C1603.6 768.2 1605.3 768.5 1607.0 768.9 C1608.6 769.2 1610.3 769.6 1612.0 769.9 C1613.6 770.2 1615.3 770.6 1617.0 770.9 C1618.6 771.3 1620.3 771.6 1622.0 771.9 C1623.6 772.3 1625.3 772.6 1627.0 773.0 C1628.6 773.3 1630.3 773.6 1632.0 774.0 C1633.6 774.3 1635.3 774.7 1637.0 775.0 C1638.6 775.3 1640.3 775.7 1642.0 776.0 C1643.6 776.4 1645.3 776.7 1647.0 777.0 C1648.6 777.4 1650.3 777.7 1652.0 778.1 C1653.6 778.4 1655.3 778.7 1657.0 779.1 C1658.6 779.4 1660.3 779.7 1662.0 780.1 C1663.6 780.4 1665.3 780.7 1667.0 781.1 C1668.6 781.4 1670.3 781.8 1672.0 782.1 C1673.6 782.4 1675.3 782.8 1677.0 783.1 C1678.7 783.4 1680.3 783.8 1682.0 784.1 C1683.7 784.4 1685.3 784.8 1687.0 785.1 C1688.7 785.4 1690.3 785.7 1692.0 786.1 C1693.7 786.4 1695.3 786.7 1697.0 787.1 C1698.7 787.4 1700.3 787.7 1702.0 788.0 C1703.7 788.4 1705.3 788.7 1707.0 789.0 C1708.7 789.3 1711.2 789.8 1712.0 790.0" stroke-width="2.6" stroke-dasharray="0 42.2 2.6 12.2" stroke-dashoffset="1.8"/>
</g>
<g stroke="#000" stroke-dasharray="30 13.8">
<line x1="135.8" y1="654.7" x2="1897" y2="654.7" stroke-width="3.4"/>
<line x1="681.6" y1="3.2" x2="681.6" y2="1215" stroke-width="2.9"/>
</g>
<rect x="134.7" y="5" width="2.4" height="1212.0" fill="#222"/>
<rect x="137.1" y="5" width="2.1" height="1209.6" fill="#777"/>
<rect x="137.1" y="1212.5" width="1757.9" height="2.1" fill="#777"/>
<rect x="134.7" y="1214.6" width="1760.3" height="2.4" fill="#222"/>
<g stroke="#464646" stroke-width="4.2">
<line x1="115.5" y1="36.1" x2="135" y2="36.1"/>
<line x1="115.5" y1="388.5" x2="135" y2="388.5"/>
<line x1="115.5" y1="655.1" x2="135" y2="655.1"/>
<line x1="115.5" y1="921.7" x2="135" y2="921.7"/>
<line x1="115.5" y1="1188.3" x2="135" y2="1188.3"/>
<line x1="168.7" y1="1216.5" x2="168.7" y2="1236"/>
<line x1="733.6" y1="1216.5" x2="733.6" y2="1236"/>
<line x1="1298.6" y1="1216.5" x2="1298.6" y2="1236"/>
<line x1="1863.5" y1="1216.5" x2="1863.5" y2="1236"/>
</g>
<g font-size="50" fill="#000" text-anchor="middle">
<text x="169.1" y="1291.4">0</text>
<text x="734.0" y="1291.4">5</text>
<text x="1299.0" y="1291.4">10</text>
<text x="1864.0" y="1291.4">15</text>
<text transform="translate(96 36.9) rotate(-90)">5</text>
<text transform="translate(96 389.3) rotate(-90)">2</text>
<text transform="translate(96 655.9) rotate(-90)">1</text>
<text transform="translate(96 922.5) rotate(-90)">.5</text>
<text transform="translate(96 1189.1) rotate(-90)">.25</text>
<text transform="translate(41 611.6) rotate(-90)" font-size="50.3">Hazard ratio (95%CI)</text>
<text transform="translate(1016.2 1342.7) scale(1.025 1)">RAR</text>
</g>
<text x="543.4" y="601" font-size="50.6" fill="#000">Ref.point=4.54</text>
</svg></body></html>
